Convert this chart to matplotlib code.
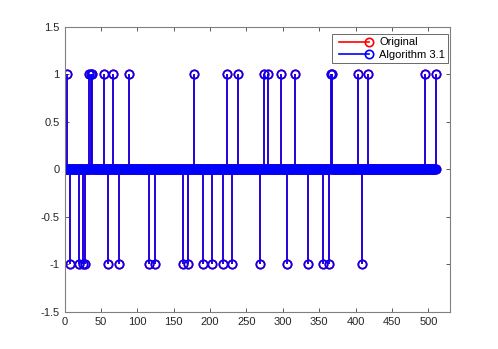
import numpy as np
import matplotlib
matplotlib.use("Agg")
import matplotlib.pyplot as plt
from matplotlib.lines import Line2D

# sparse test signal, 512 samples
n_samples = 512
pos_idx = [4, 34, 36, 38, 54, 67, 88, 178, 223, 239, 274, 280, 297, 317,
           366, 368, 403, 417, 495, 511]
neg_idx = [8, 20, 26, 28, 60, 75, 116, 125, 163, 169, 190, 202, 218, 230,
           268, 306, 334, 355, 364, 409]

n = np.arange(n_samples)
original = np.zeros(n_samples)
original[pos_idx] = 1
original[neg_idx] = -1
recovered = original.copy()  # Algorithm 3.1 recovers the signal exactly

plt.rcParams['font.family'] = ['Liberation Sans', 'DejaVu Sans']

fig = plt.figure(figsize=(4.98, 3.49), dpi=100)
ax = fig.add_axes([0.1296, 0.106, 0.7744, 0.8175])


def draw_stem(ax, x, y, color):
    markerline, stemlines, baseline = ax.stem(x, y, linefmt='-', markerfmt='o',
                                              basefmt=' ')
    stemlines.set_color(color)
    stemlines.set_linewidth(1.2)
    markerline.set_color(color)
    markerline.set_markerfacecolor('none')
    markerline.set_markeredgecolor(color)
    markerline.set_markersize(6)
    markerline.set_markeredgewidth(1.2)
    return markerline


draw_stem(ax, n, original, 'red')
draw_stem(ax, n, recovered, 'blue')

ax.set_xlim(0, 530)
ax.set_ylim(-1.5, 1.5)
ax.set_xticks(np.arange(0, 501, 50))
ax.set_yticks([-1.5, -1, -0.5, 0, 0.5, 1, 1.5])
ax.set_yticklabels(['-1.5', '-1', '-0.5', '0', '0.5', '1', '1.5'])
ax.tick_params(direction='in', top=True, right=True, labelsize=8,
               length=3, width=0.6, colors='#404040', labelcolor='#262626')
for sp in ax.spines.values():
    sp.set_color('#808080')
    sp.set_linewidth(0.8)

handles = [
    Line2D([], [], color='red', lw=1.2, marker='o', markersize=6,
           markerfacecolor='none', markeredgewidth=1.2),
    Line2D([], [], color='blue', lw=1.2, marker='o', markersize=6,
           markerfacecolor='none', markeredgewidth=1.2),
]
leg = ax.legend(handles, ['Original', 'Algorithm 3.1'], loc='upper right',
                numpoints=2, fontsize=8, frameon=True, fancybox=False,
                borderpad=0.3, borderaxespad=0, handlelength=3.3,
                handletextpad=0.6, labelspacing=0.2,
                bbox_to_anchor=(0.995, 0.974))
# marker only at the right end of the legend line, like MATLAB
for line in leg.get_lines():
    line.set_markevery([1])
leg.get_frame().set_edgecolor('#262626')
leg.get_frame().set_linewidth(0.6)

fig.savefig('out.png', dpi=100)
